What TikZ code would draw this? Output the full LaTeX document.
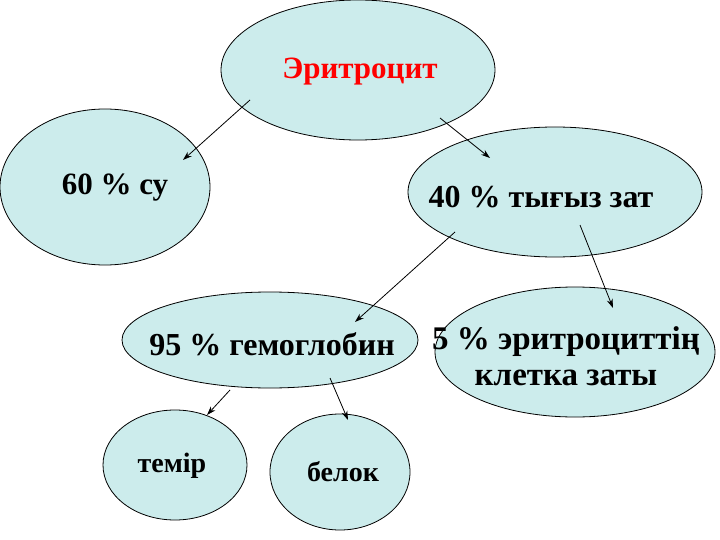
\documentclass[tikz,border=0pt]{standalone}
\usepackage{fontspec}
\usetikzlibrary{arrows.meta}
\setmainfont{Liberation Serif}
\definecolor{fillc}{RGB}{204,236,236}
\begin{document}
\begin{tikzpicture}[x=1pt,y=-1pt,
  ell/.style={draw=black,fill=fillc,line width=0.8pt},
  arr/.style={-{Stealth[length=9pt,width=6pt]},line width=0.8pt},
  lbl/.style={font=\fontsize{32}{36}\selectfont\bfseries,align=center}]
\useasboundingbox (0,0) rectangle (720,540);
\filldraw[ell] (358,70) ellipse [x radius=137,y radius=70];
\node[lbl,red,font=\fontsize{31}{36}\selectfont\bfseries] (er) at (360,72) {Эритроцит};
\filldraw[ell] (105,187) ellipse [x radius=105,y radius=78];
\node[lbl,font=\fontsize{31}{36}\selectfont\bfseries] (su) at (115,188) {60 \% су};
\filldraw[ell] (555,192) ellipse [x radius=147,y radius=65];
\node[lbl] (tz) at (541,197) {40 \% тығыз зат};
\filldraw[ell] (270,340) ellipse [x radius=148,y radius=48];
\node[lbl] (gem) at (272,344) {95 \% гемоглобин};
\filldraw[ell] (575,352) ellipse [x radius=140,y radius=65];
\node[lbl,font=\fontsize{33}{36}\selectfont\bfseries] (kl) at (566,356) {5 \% эритроциттің\\клетка заты};
\filldraw[ell] (175,465) ellipse [x radius=72,y radius=55];
\node[lbl,font=\fontsize{28}{32}\selectfont\bfseries] (tm) at (172,466) {темір};
\filldraw[ell] (340,472) ellipse [x radius=70,y radius=58];
\node[lbl,font=\fontsize{28}{32}\selectfont\bfseries] (bl) at (343,472) {белок};
\coordinate (a1) at (250,100); \coordinate (b1) at (183,160);
\coordinate (a2) at (440,118); \coordinate (b2) at (490,158);
\coordinate (a3) at (455,232); \coordinate (b3) at (355,322);
\coordinate (a4) at (580,225); \coordinate (b4) at (613,308);
\coordinate (a5) at (230,390); \coordinate (b5) at (207,415);
\coordinate (a6) at (330,378); \coordinate (b6) at (348,420);
\foreach \s/\t in {a1/b1,a2/b2,a3/b3,a4/b4,a5/b5,a6/b6} \draw[arr] (\s) -- (\t);
\end{tikzpicture}
\end{document}
